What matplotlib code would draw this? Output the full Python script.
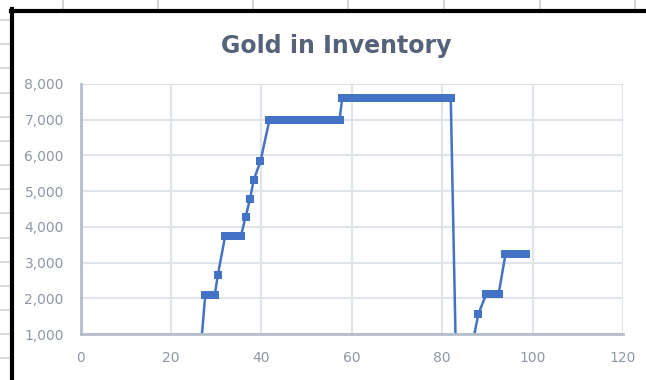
import matplotlib.pyplot as plt
from matplotlib.lines import Line2D
from matplotlib.ticker import FuncFormatter

# time (x) and gold held (y)
time = [0, 13, 26.2,
        27.6, 28.7, 29.7, 30.4,
        32.0, 33.2, 34.4, 35.5,
        36.5, 37.5, 38.3, 39.8,
        41.8, 43.1, 44.4, 45.7, 47.0, 48.3, 49.6, 50.9, 52.2, 53.5, 54.8, 56.1, 57.3,
        57.9, 59.2, 60.5, 61.8, 63.1, 64.4, 65.7, 67.0, 68.3, 69.6, 70.9, 72.2,
        73.5, 74.8, 76.1, 77.4, 78.7, 80.0, 81.2, 81.9,
        83.1, 85.6,
        88.0,
        89.8, 91.1, 92.5,
        94.0, 95.2, 96.4, 97.6, 98.6]
gold = [0, 0, 0,
        2100, 2100, 2100, 2660,
        3750, 3750, 3750, 3750,
        4270, 4780, 5310, 5830,
        7000, 7000, 7000, 7000, 7000, 7000, 7000, 7000, 7000, 7000, 7000, 7000, 7000,
        7600, 7600, 7600, 7600, 7600, 7600, 7600, 7600, 7600, 7600, 7600, 7600,
        7600, 7600, 7600, 7600, 7600, 7600, 7600, 7600,
        0, 0,
        1560,
        2130, 2130, 2130,
        3230, 3230, 3230, 3230, 3230]

xticks = [0, 20, 40, 60, 80, 100, 120]
yticks = [1000, 2000, 3000, 4000, 5000, 6000, 7000, 8000]

W, H = 646, 380
fig = plt.figure(figsize=(W / 100, H / 100), dpi=100)
fig.patch.set_facecolor('white')

# spreadsheet cells peeking out around the chart
for yy in [20, 44, 68, 93, 117, 141, 165, 189, 213, 238, 262, 286, 310, 334, 358]:
    fig.add_artist(Line2D([0, 10 / W], [1 - yy / H] * 2, color='#D4D4D4', lw=1.2))
for xx in [63, 158, 253, 348, 444, 540, 635]:
    fig.add_artist(Line2D([xx / W] * 2, [1, 1 - 8 / H], color='#D4D4D4', lw=1.5))
# chart border
fig.add_artist(Line2D([12 / W] * 2, [0, 1 - 9 / H], color='black', lw=3))
fig.add_artist(Line2D([11 / W, 1], [1 - 10.5 / H] * 2, color='black', lw=3))

ax = fig.add_axes([80.5 / W, 1 - 334 / H, (623 - 80.5) / W, (334 - 84) / H])
ax.plot(time, gold, color='#4472C4', lw=1.8, marker='s', markersize=5.5,
        markeredgewidth=0)

ax.set_xlim(0, 120)
ax.set_ylim(1000, 8000)
ax.set_xticks(xticks)
ax.set_yticks(yticks)
ax.yaxis.set_major_formatter(FuncFormatter(lambda v, p: f'{int(v):,}'))
ax.grid(True, color='#DFE3EA', lw=1.5)
ax.set_axisbelow(True)
for s in ['top', 'right']:
    ax.spines[s].set_visible(False)
for s in ['left', 'bottom']:
    ax.spines[s].set_color('#B4BDCB')
    ax.spines[s].set_linewidth(2)
ax.tick_params(length=0, pad=12, labelsize=10, labelcolor='#8E97A5')

fig.text(336 / W, 1 - 53 / H, 'Gold in Inventory', ha='center', va='baseline',
         fontsize=17, fontweight='bold', color='#56627A')

fig.savefig('out.png', dpi=100)
